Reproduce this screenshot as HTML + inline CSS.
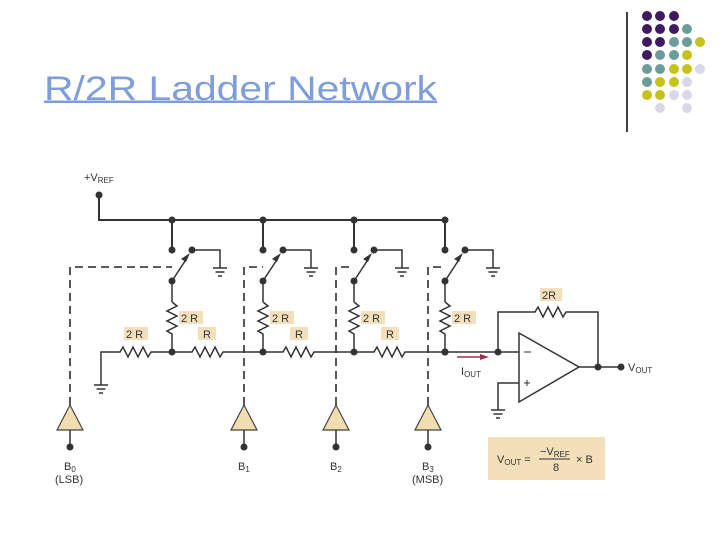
<!DOCTYPE html>
<html><head><meta charset="utf-8"><style>
html,body{margin:0;padding:0;background:#fff;width:720px;height:540px;overflow:hidden}
svg{display:block}
text{font-family:"Liberation Sans",sans-serif}
</style></head><body>
<svg width="720" height="540" viewBox="0 0 720 540" xmlns="http://www.w3.org/2000/svg">
<text x="44" y="100" font-size="34" fill="#7f9ddb" textLength="393" lengthAdjust="spacingAndGlyphs">R/2R Ladder Network</text>
<rect x="44" y="100.5" width="393" height="2.5" fill="#7f9ddb"/>
<line x1="627" y1="12" x2="627" y2="132" stroke="#000" stroke-width="1.5"/>
<g>
<circle cx="647" cy="16" r="5" fill="#3f1a5e"/><circle cx="660" cy="16" r="5" fill="#3f1a5e"/><circle cx="674" cy="16" r="5" fill="#3f1a5e"/>
<circle cx="647" cy="29" r="5" fill="#3f1a5e"/><circle cx="660" cy="29" r="5" fill="#3f1a5e"/><circle cx="674" cy="29" r="5" fill="#3f1a5e"/><circle cx="687" cy="29" r="5" fill="#6b9c9c"/>
<circle cx="647" cy="42" r="5" fill="#3f1a5e"/><circle cx="660" cy="42" r="5" fill="#3f1a5e"/><circle cx="674" cy="42" r="5" fill="#6b9c9c"/><circle cx="687" cy="42" r="5" fill="#6b9c9c"/><circle cx="700" cy="42" r="5" fill="#c7c21a"/>
<circle cx="647" cy="55" r="5" fill="#3f1a5e"/><circle cx="660" cy="55" r="5" fill="#6b9c9c"/><circle cx="674" cy="55" r="5" fill="#6b9c9c"/><circle cx="687" cy="55" r="5" fill="#c7c21a"/>
<circle cx="647" cy="69" r="5" fill="#6b9c9c"/><circle cx="660" cy="69" r="5" fill="#6b9c9c"/><circle cx="674" cy="69" r="5" fill="#c7c21a"/><circle cx="687" cy="69" r="5" fill="#c7c21a"/><circle cx="700" cy="69" r="5" fill="#d8d8ea"/>
<circle cx="647" cy="82" r="5" fill="#6b9c9c"/><circle cx="660" cy="82" r="5" fill="#c7c21a"/><circle cx="674" cy="82" r="5" fill="#c7c21a"/><circle cx="687" cy="82" r="5" fill="#d8d8ea"/>
<circle cx="647" cy="95" r="5" fill="#c7c21a"/><circle cx="660" cy="95" r="5" fill="#c7c21a"/><circle cx="674" cy="95" r="5" fill="#d8d8ea"/><circle cx="687" cy="95" r="5" fill="#d8d8ea"/>
<circle cx="660" cy="108" r="5" fill="#d8d8ea"/><circle cx="687" cy="108" r="5" fill="#d8d8ea"/>
</g>

<g stroke="#333" stroke-width="2" fill="none">
<!-- VREF bus -->
<polyline points="99,195 99,220 445,220"/>
<line x1="172" y1="220" x2="172" y2="250"/>
<line x1="263" y1="220" x2="263" y2="250"/>
<line x1="354" y1="220" x2="354" y2="250"/>
<line x1="445" y1="220" x2="445" y2="250"/>
</g>
<g fill="#333">
<circle cx="99" cy="195" r="3.5"/>
<circle cx="172" cy="220" r="3.5"/><circle cx="263" cy="220" r="3.5"/><circle cx="354" cy="220" r="3.5"/><circle cx="445" cy="220" r="3.5"/>
</g>

<!-- dashed lines -->
<g stroke="#444" stroke-width="1.8" fill="none" stroke-dasharray="8,5">
<polyline points="70,405 70,267 172,267"/>
<polyline points="244,405 244,267 263,267"/>
<polyline points="336,405 336,267 354,267"/>
<polyline points="428,405 428,267 445,267"/>
</g>

<!-- switch cells -->
<g id="cell">
<g stroke="#333" stroke-width="1.5" fill="none">
<polyline points="192,250 220,250 220,268"/>
<line x1="213" y1="268" x2="227" y2="268"/><line x1="215.5" y1="272" x2="224.5" y2="272"/><line x1="218" y1="276" x2="222" y2="276"/>
<line x1="172" y1="281" x2="187" y2="258"/>
<line x1="172" y1="281" x2="172" y2="302"/>
<polyline points="172,302 177,306 167,311 177,316 167,321 177,326 167,331 172,334 172,352"/>
</g>
<polygon points="190,253 181,259 186,262" fill="#333"/>
<g fill="#333"><circle cx="172" cy="250" r="3.5"/><circle cx="192" cy="250" r="3.5"/><circle cx="172" cy="281" r="3.5"/><circle cx="172" cy="352" r="3.5"/></g>
</g>
<use href="#cell" x="91"/>
<use href="#cell" x="182"/>
<use href="#cell" x="273"/>

<!-- horizontal ladder -->
<g stroke="#333" stroke-width="1.5" fill="none">
<polyline points="101,385 101,352 120,352 123,347 128,357 133,347 138,357 143,347 148,357 151,352 172,352"/>
<polyline points="172,352 192,352 195,347 200,357 205,347 210,357 215,347 220,357 223,352 263,352"/>
<polyline points="263,352 283,352 286,347 291,357 296,347 301,357 306,347 311,357 314,352 354,352"/>
<polyline points="354,352 374,352 377,347 382,357 387,347 392,357 397,347 402,357 405,352 445,352"/>
<line x1="445" y1="352" x2="519" y2="352"/>
<line x1="94" y1="385" x2="108" y2="385"/><line x1="96.5" y1="389" x2="105.5" y2="389"/><line x1="99" y1="393" x2="103" y2="393"/>
<!-- op amp -->
<polygon points="519,333 519,402 579,367"/>
<polyline points="498,352 498,312 535,312 538,307 543,317 548,307 553,317 558,307 563,317 566,312 598,312 598,367"/>
<line x1="579" y1="367" x2="621" y2="367"/>
<polyline points="519,383 498,383 498,410"/>
<line x1="491" y1="410" x2="505" y2="410"/><line x1="493.5" y1="414" x2="502.5" y2="414"/><line x1="496" y1="418" x2="500" y2="418"/>
<line x1="524" y1="352" x2="531" y2="352" stroke-width="1"/>
<line x1="524" y1="383" x2="530" y2="383" stroke-width="1"/><line x1="527" y1="380" x2="527" y2="386" stroke-width="1"/>
</g>
<g fill="#333"><circle cx="445" cy="352" r="3.5"/><circle cx="498" cy="352" r="3.5"/><circle cx="598" cy="367" r="3.5"/><circle cx="621" cy="367" r="3.5"/></g>
<line x1="457" y1="357" x2="482" y2="357" stroke="#a0304a" stroke-width="1.5"/>
<polygon points="489,357 480,354 480,360" fill="#a0304a"/>

<!-- buffers -->
<g stroke="#444" stroke-width="1.2" fill="#f1ddb0">
<polygon points="70,405 57,430 83,430"/>
<polygon points="244,405 231,430 257,430"/>
<polygon points="336,405 323,430 349,430"/>
<polygon points="428,405 415,430 441,430"/>
</g>
<g stroke="#333" stroke-width="1.5">
<line x1="70" y1="430" x2="70" y2="447"/><line x1="244" y1="430" x2="244" y2="447"/><line x1="336" y1="430" x2="336" y2="447"/><line x1="428" y1="430" x2="428" y2="447"/>
</g>
<g fill="#333"><circle cx="70" cy="447" r="3.5"/><circle cx="244" cy="447" r="3.5"/><circle cx="336" cy="447" r="3.5"/><circle cx="428" cy="447" r="3.5"/></g>

<!-- label boxes -->
<g fill="#f3e0ba">
<rect x="179" y="311" width="24" height="13"/><rect x="270" y="311" width="24" height="13"/><rect x="361" y="311" width="24" height="13"/><rect x="452" y="311" width="24" height="13"/>
<rect x="124" y="327" width="24" height="13"/><rect x="198" y="327" width="18" height="13"/><rect x="290" y="327" width="18" height="13"/><rect x="381" y="327" width="18" height="13"/>
<rect x="540" y="288" width="22" height="13"/>
<rect x="488" y="437" width="117" height="43"/>
</g>
<g font-size="11" fill="#333">
<text x="181" y="322">2 R</text><text x="272" y="322">2 R</text><text x="363" y="322">2 R</text><text x="454" y="322">2 R</text>
<text x="126" y="338">2 R</text><text x="203" y="338">R</text><text x="295" y="338">R</text><text x="386" y="338">R</text>
<text x="542" y="299">2R</text>
<text x="84" y="181">+V<tspan font-size="8" dy="2">REF</tspan></text>
<text x="461" y="375">I<tspan font-size="8" dy="2">OUT</tspan></text>
<text x="628" y="371">V<tspan font-size="8" dy="2">OUT</tspan></text>
<text x="64" y="470">B<tspan font-size="8" dy="2">0</tspan></text><text x="55" y="483">(LSB)</text>
<text x="238" y="470">B<tspan font-size="8" dy="2">1</tspan></text>
<text x="330" y="470">B<tspan font-size="8" dy="2">2</tspan></text>
<text x="422" y="470">B<tspan font-size="8" dy="2">3</tspan></text><text x="412" y="483">(MSB)</text>
<text x="497" y="463">V<tspan font-size="8" dy="2">OUT</tspan><tspan dy="-2"> =</tspan></text>
<text x="540" y="455">−V<tspan font-size="8" dy="2">REF</tspan></text>
<text x="553" y="471">8</text>
<text x="576" y="463">×  B</text>
</g>
<line x1="539" y1="459" x2="570" y2="459" stroke="#333" stroke-width="1"/>
</svg>
</body></html>
